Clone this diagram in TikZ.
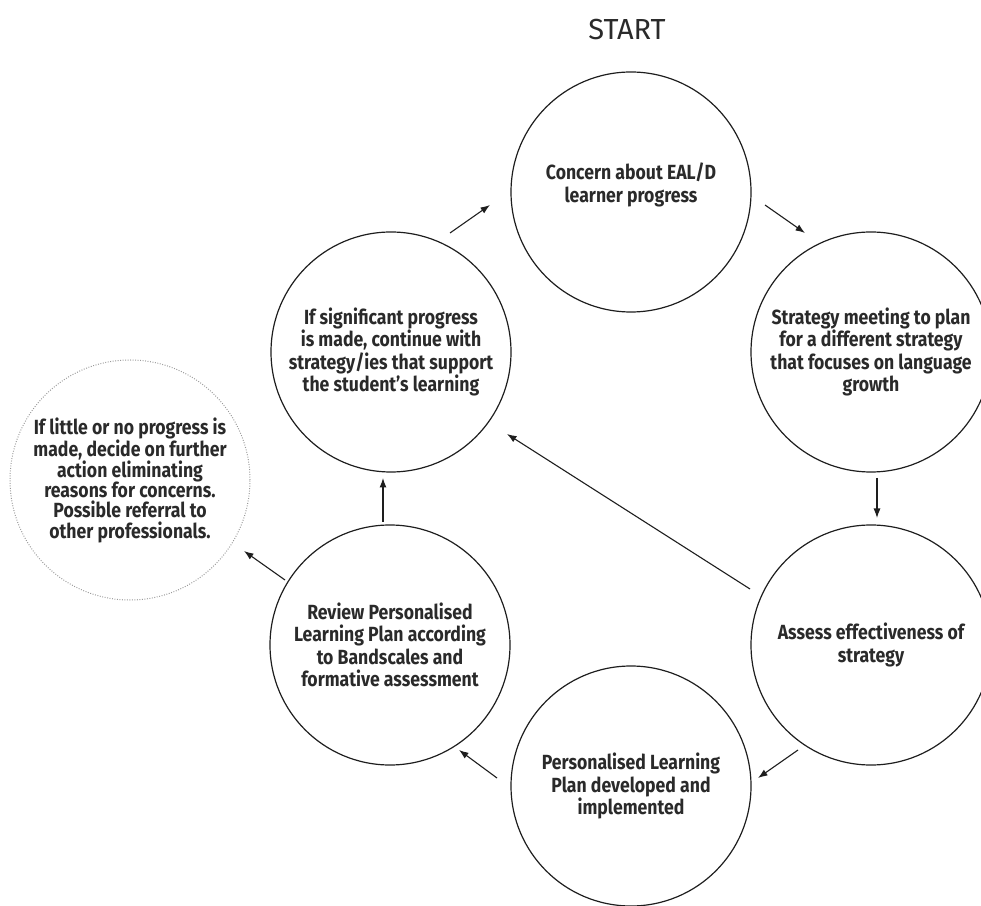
\documentclass[tikz,border=0pt]{standalone}
\usepackage{fontspec}
\setmainfont{Fira Sans}
\newfontfamily\bodyfont{Fira Sans}[FakeStretch=0.86]
\usetikzlibrary{arrows.meta,calc}
\definecolor{ink}{HTML}{1E1E1E}
\definecolor{txt}{HTML}{2A2A2A}
\tikzset{
  stagefont/.style={align=center, text=txt, font=\bodyfont\bfseries\fontsize{20.5}{22.3}\selectfont},
  stage/.style={circle, draw=ink, line width=1.2pt, minimum size=240pt, inner sep=0pt, stagefont},
  optstage/.style={circle, draw=gray!80, line width=1pt, dash pattern=on 0.9pt off 1.6pt,
    minimum size=240pt, inner sep=0pt, align=center, text=txt,
    font=\bodyfont\bfseries\fontsize{20.5}{20.2}\selectfont},
  flow/.style={draw=ink, line width=1.1pt, -{Latex[length=9.5pt,width=7pt]}},
  title/.style={text=txt, font=\fontsize{29}{32}\selectfont}
}
\begin{document}
\begin{tikzpicture}[x=1pt,y=1pt]
\useasboundingbox (0,0) rectangle (981,905);
\node[title] (start) at (627,875) {START};
\node[stage, label={[stagefont, yshift=7pt]center:Concern about EAL/D\\learner progress}] (A) at (631,713) {};
\node[stage] (B) at (871,553) {Strategy meeting to plan\\for a different strategy\\that focuses on language\\growth};
\node[stage] (C) at (871,260) {Assess effectiveness of\\strategy};
\node[stage] (D) at (631,119) {Personalised Learning\\Plan developed and\\implemented};
\node[stage] (E) at (390,260) {Review Personalised\\Learning Plan according\\to Bandscales and\\formative assessment};
\node[stage] (F) at (391,553) {If significant progress\\is made, continue with\\strategy/ies that support\\the student’s learning};
\node[optstage] (G) at (130,425) {If little or no progress is\\made, decide on further\\action eliminating\\reasons for concerns.\\Possible referral to\\other professionals.};
\draw[flow] ($(F)+(59,119)$) -- ($(A)+(-141,-13)$);
\draw[flow] ($(A)+(134,-13)$) -- ($(B)+(-66,119)$);
\draw[flow] ($(B)+(6,-126)$) -- ($(C)+(6,127)$);
\draw[flow] ($(C)+(-73,-105)$) -- ($(D)+(127,8)$);
\draw[flow] ($(D)+(-134,8)$) -- ($(E)+(69,-105)$);
\draw[flow] ($(E)+(-7,123)$) -- ($(F)+(-8,-126)$);
\draw[flow] ($(E)+(-105,65)$) -- ($(G)+(114,-71)$);
\draw[flow] ($(C)+(-121,56)$) -- ($(F)+(116,-82)$);
\end{tikzpicture}
\end{document}
